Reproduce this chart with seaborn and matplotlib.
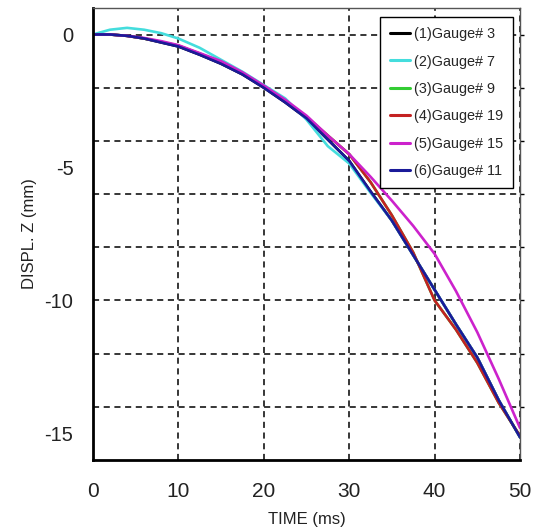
import numpy as np
import pandas as pd
import matplotlib
matplotlib.use("Agg")
import matplotlib.pyplot as plt
from matplotlib.ticker import FixedLocator
import seaborn as sns

time_ms = [0, 2, 4, 6, 8, 10, 12.5, 15, 17.5, 20, 22.5, 25, 27.5, 30,
           32.5, 35, 37.5, 40, 42.5, 45, 47.5, 50]

gauge_3 = [0, 0, -0.05, -0.15, -0.3, -0.45, -0.76, -1.1, -1.5, -2.0, -2.55, -3.15,
           -3.95, -4.75, -5.9, -7.0, -8.3, -9.6, -10.9, -12.15, -13.75, -15.15]
gauge_7 = [0, 0.18, 0.25, 0.18, 0.05, -0.15, -0.5, -0.95, -1.4, -1.9, -2.4, -3.2,
           -4.2, -4.85, -5.95, -7.0, -8.3, -9.6, -10.9, -12.15, -13.75, -15.15]
gauge_9 = [0, 0, -0.05, -0.15, -0.28, -0.42, -0.72, -1.05, -1.45, -1.95, -2.5, -3.1,
           -3.8, -4.5, -5.55, -6.8, -8.2, -10.0, -11.1, -12.35, -13.85, -15.1]
gauge_19 = [0, 0, -0.05, -0.15, -0.28, -0.42, -0.72, -1.05, -1.45, -1.95, -2.5, -3.1,
            -3.8, -4.5, -5.55, -6.8, -8.2, -10.0, -11.1, -12.35, -13.85, -15.1]
gauge_15 = [0, 0, -0.05, -0.13, -0.25, -0.4, -0.7, -1.0, -1.42, -1.92, -2.45, -3.05,
            -3.8, -4.5, -5.35, -6.25, -7.2, -8.25, -9.65, -11.2, -12.95, -14.8]
gauge_11 = [0, 0, -0.05, -0.15, -0.3, -0.45, -0.76, -1.1, -1.5, -2.0, -2.55, -3.15,
            -3.95, -4.75, -5.9, -7.0, -8.3, -9.6, -10.9, -12.15, -13.75, -15.15]

labels = ["(1)Gauge# 3", "(2)Gauge# 7", "(3)Gauge# 9",
          "(4)Gauge# 19", "(5)Gauge# 15", "(6)Gauge# 11"]
series = [gauge_3, gauge_7, gauge_9, gauge_19, gauge_15, gauge_11]
colors = ["#000000", "#44dddd", "#33cc33", "#c42222", "#cc22cc", "#1a1a99"]

x_ticks = [0, 10, 20, 30, 40, 50]
y_ticks = [0, -5, -10, -15]
y_grid = [0, -2, -4, -6, -8, -10, -12, -14]

df = pd.concat([pd.DataFrame({"t": time_ms, "z": s, "gauge": lab})
                for lab, s in zip(labels, series)], ignore_index=True)

sns.set_style("white")
plt.rcParams["font.family"] = ["Liberation Sans", "DejaVu Sans"]

fig = plt.figure(figsize=(5.4, 5.28), dpi=100)
ax = fig.add_axes([0.172, 0.129, 0.791, 0.856])

sns.lineplot(data=df, x="t", y="z", hue="gauge", hue_order=labels,
             palette=dict(zip(labels, colors)), linewidth=1.9, ax=ax,
             sort=False, estimator=None)

ax.set_xlim(0, 50)
ax.set_ylim(-16, 1)
ax.set_xticks(x_ticks)
ax.set_yticks(y_ticks)
ax.set_xticklabels([str(v) for v in x_ticks], fontsize=15, color="#222222")
ax.set_yticklabels([str(v) for v in y_ticks], fontsize=14.5, color="#222222")
ax.yaxis.set_minor_locator(FixedLocator(y_grid))
ax.yaxis.remove_overlapping_locs = False

ax.set_xlabel("TIME (ms)", fontsize=12, labelpad=8, color="#222222")
ax.set_ylabel("DISPL. Z (mm)", fontsize=12, labelpad=5.5, color="#222222")

ax.grid(False)
ax.xaxis.grid(True, which="major", color="black", linestyle=(0, (4, 3)), linewidth=1.1)
ax.yaxis.grid(True, which="minor", color="black", linestyle=(0, (4, 3)), linewidth=1.1)
ax.set_axisbelow(True)

ax.tick_params(axis="both", which="major", direction="out", length=11, width=2,
               color="black")
ax.tick_params(axis="x", which="major", pad=5)
ax.tick_params(axis="y", which="major", pad=3)
ax.tick_params(axis="y", which="minor", left=False, right=True, direction="out",
               length=3, width=1, color="black")

for side in ["left", "bottom"]:
    ax.spines[side].set_color("black")
    ax.spines[side].set_linewidth(2)
for side in ["top", "right"]:
    ax.spines[side].set_color("#555555")
    ax.spines[side].set_linewidth(1)

leg = ax.legend(loc="upper right", bbox_to_anchor=(0.984, 0.980), fontsize=10.4,
                frameon=True, fancybox=False, edgecolor="black", framealpha=1,
                handlelength=1.4, handletextpad=0.25, borderpad=0.7,
                labelspacing=0.93, borderaxespad=0)
leg.get_frame().set_linewidth(1)
for line in leg.get_lines():
    line.set_linewidth(2.2)

fig.savefig("out.png", dpi=100)
